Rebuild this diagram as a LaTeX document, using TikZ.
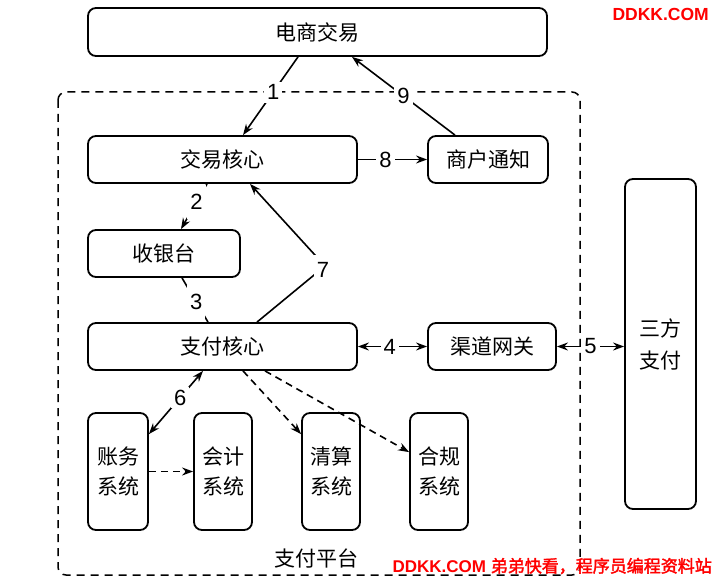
\documentclass[tikz,border=0pt]{standalone}
\usepackage{fontspec}
\setmainfont{Liberation Sans}
\newfontfamily\cjk{Noto Sans CJK SC}
\newfontfamily\cjkb[FakeBold=2]{Noto Sans CJK SC}
\usetikzlibrary{arrows.meta}
\begin{document}
\begin{tikzpicture}[x=1pt,y=-1pt,
  box/.style={draw, line width=1.8pt, rounded corners=8pt, font=\cjk\fontsize{21}{30}\selectfont, align=center, inner sep=0pt},
  lbl/.style={fill=white, font=\fontsize{22}{24}\selectfont, inner sep=3pt},
  tall/.style={lbl, minimum height=34pt},
  arr/.style={line width=1.6pt, -{Stealth[length=11pt,width=8pt]}},
  darr/.style={arr, dash pattern=on 7pt off 5pt},
  barr/.style={line width=1.6pt, {Stealth[length=11pt,width=8pt]}-{Stealth[length=11pt,width=8pt]}},
  plat/.style={line width=1.5pt, dash pattern=on 8pt off 6pt, rounded corners=8pt}
]
\useasboundingbox (0,0) rectangle (713,578);
\fill[white] (0,0) rectangle (713,578);

% platform
\draw[plat] (58,92) rectangle (580,575);
\node[font=\cjk\fontsize{21}{24}\selectfont] (pt) at (316,558) {支付平台};

% boxes
\node[box, minimum width=459pt, minimum height=48pt] (ecom) at (317.5,32) {电商交易};
\node[box, minimum width=269pt, minimum height=47pt] (jy) at (222.5,159.5) {交易核心};
\node[box, minimum width=120pt, minimum height=47pt] (tz) at (488,159.5) {商户通知};
\node[box, minimum width=152pt, minimum height=47pt] (syt) at (164,253.5) {收银台};
\node[box, minimum width=269pt, minimum height=47pt] (zf) at (222.5,346.5) {支付核心};
\node[box, minimum width=128pt, minimum height=47pt] (qd) at (492,346.5) {渠道网关};
\node[box, minimum width=71pt, minimum height=330pt, font=\cjk\fontsize{21}{32}\selectfont] (sf) at (660.5,344) {三方\\支付};
\node[box, minimum width=60pt, minimum height=117pt] (zw) at (118,471.5) {账务\\系统};
\node[box, minimum width=58pt, minimum height=117pt] (kj) at (223,471.5) {会计\\系统};
\node[box, minimum width=58pt, minimum height=117pt] (qs) at (331,471.5) {清算\\系统};
\node[box, minimum width=58pt, minimum height=117pt] (hg) at (439,471.5) {合规\\系统};

% connectors
\draw[arr] ([xshift=-19.5pt]ecom.south) -- node[lbl, pos=0.45] {1} ([xshift=20.5pt]jy.north);
\draw[arr] ([xshift=-33pt]tz.north) -- node[lbl, pos=0.5] {9} ([xshift=34.5pt]ecom.south);
\draw[arr] (jy.east) -- node[lbl, pos=0.4] {8} (tz.west);
\draw[arr] ([xshift=-15.5pt]jy.south) -- node[tall, pos=0.4] {2} ([xshift=17pt]syt.north);
\draw[line width=1.6pt] ([xshift=18pt]syt.south) -- node[tall, pos=0.55] {3} ([xshift=-14.5pt]zf.north);
\coordinate (p7) at (325,266);
\draw[arr] ([xshift=34.5pt]zf.north) -- (p7) -- ([xshift=27.5pt]jy.south);
\node[lbl, minimum height=30pt] (l7) at (323,270) {7};
\draw[barr] (zf.east) -- node[lbl, pos=0.46] {4} (qd.west);
\draw[barr] (qd.east) -- node[lbl, pos=0.5] {5} (qd.east -| sf.west);
\draw[barr] ([xshift=-19.5pt]zf.south) -- node[lbl, pos=0.42] {6} ([yshift=-22pt]zw.north east);
\draw[darr] (zw.east) -- (kj.west);
\draw[darr] ([xshift=20.5pt]zf.south) -- ([yshift=-22pt]qs.north west);
\draw[darr] ([xshift=42.5pt]zf.south) -- ([yshift=-40pt]hg.north west);

% watermarks
\node[anchor=east, text=red, font=\bfseries\fontsize{17.5}{20}\selectfont, inner sep=0pt] (wm1) at (709,14) {DDKK.COM};
\node[anchor=east, text=red, font=\fontsize{17}{20}\selectfont, inner sep=0pt] (wm2) at (712,566) {\textbf{DDKK.COM} {\cjkb 弟弟快看，程序员编程资料站}};
\end{tikzpicture}
\end{document}
